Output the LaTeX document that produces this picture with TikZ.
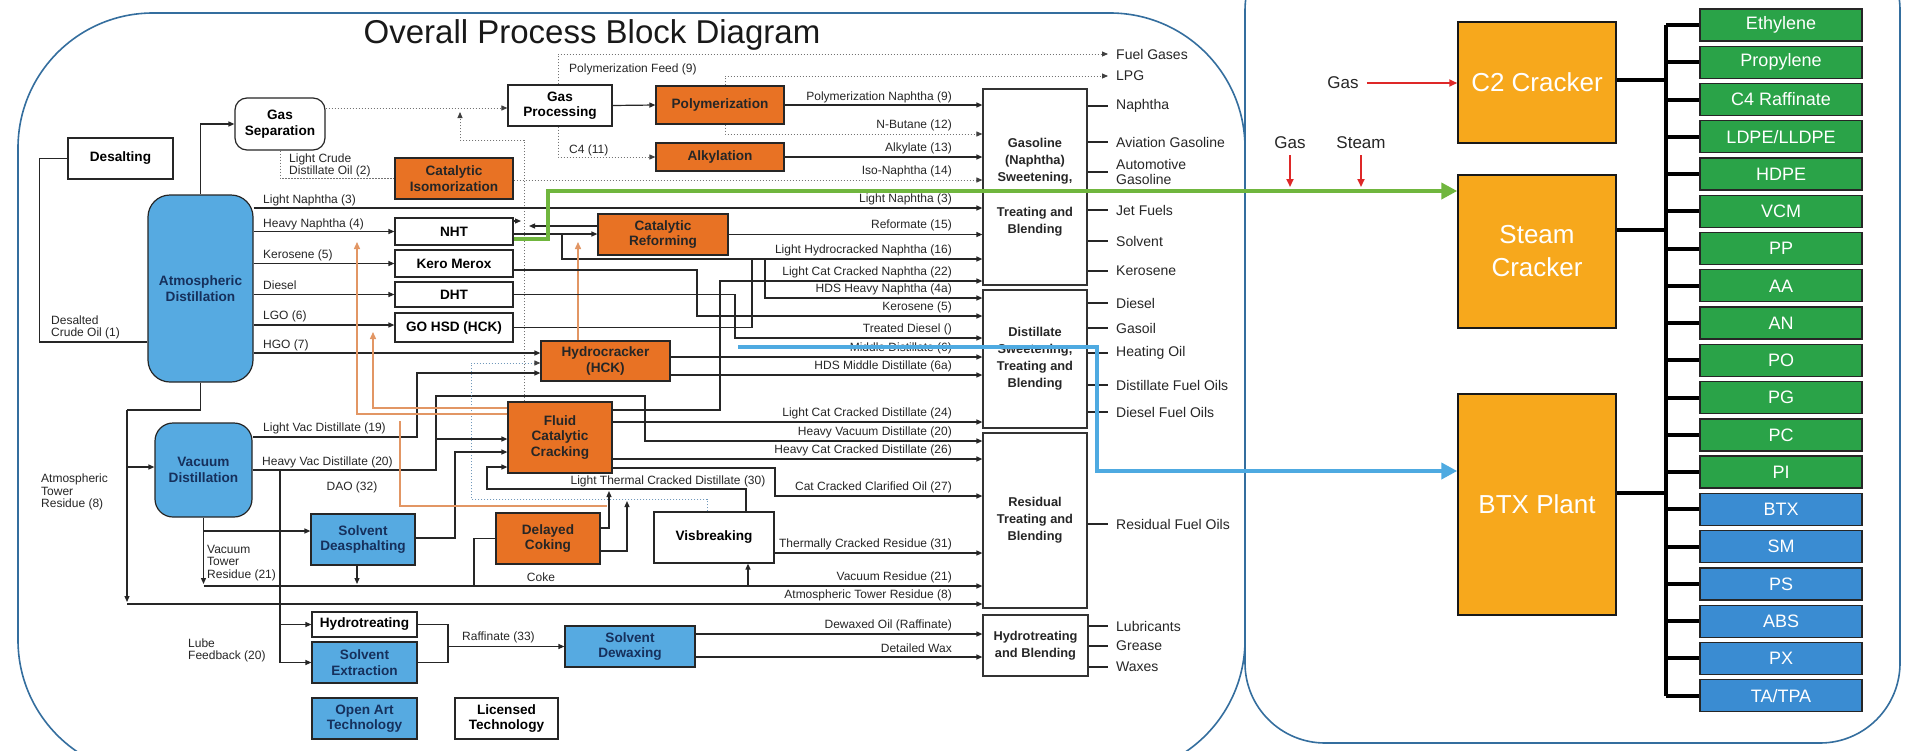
\documentclass[tikz,border=0pt]{standalone}
\usepackage{fontspec}
\setmainfont{Liberation Sans}
\usetikzlibrary{arrows.meta}
\definecolor{orL}{RGB}{232,114,36}
\definecolor{blL}{RGB}{86,170,225}
\definecolor{navy}{RGB}{22,48,92}
\definecolor{orR}{RGB}{247,168,28}
\definecolor{grP}{RGB}{42,163,72}
\definecolor{blP}{RGB}{58,140,210}
\definecolor{frm}{RGB}{52,110,158}
\definecolor{grF}{RGB}{112,182,62}
\definecolor{blF}{RGB}{78,170,225}
\definecolor{redA}{RGB}{222,40,40}
\definecolor{orA}{RGB}{226,150,100}
\begin{document}
\begin{tikzpicture}[x=1pt,y=-1pt,
 sz/.style 2 args={minimum width=#1pt,minimum height=#2pt},
 pbox/.style={draw=black!85,line width=1.2pt,align=center,inner sep=1pt,font=\fontsize{13.6}{15.5}\selectfont\bfseries},
 wbox/.style={pbox,fill=white,text=black},
 obox/.style={pbox,fill=orL,text=black!85},
 bbox/.style={pbox,fill=blL,text=navy},
 blk/.style={draw=black!80,line width=1.2pt,fill=white,align=center,font=\fontsize{12.8}{17}\selectfont\bfseries,text=black!85},
 lab/.style={inner sep=0pt,font=\fontsize{12}{12.2}\selectfont,text=black!85},
 rl/.style={lab,anchor=east},
 ll/.style={lab,anchor=west,align=left},
 olab/.style={inner sep=0pt,anchor=west,align=left,font=\fontsize{14}{15}\selectfont,text=black!85},
 fl/.style={line width=1.2pt,draw=black!85},
 ar/.style={fl,-{Triangle[length=6pt,width=5pt]}},
 dl/.style={line width=0.9pt,draw=black!55,dash pattern=on 1.6pt off 1.4pt},
 dar/.style={dl,-{Triangle[length=6pt,width=5pt,color=black!75,fill=black!75]}},
 vdl/.style={line width=0.9pt,draw=frm!70,dash pattern=on 1.6pt off 1.4pt,-{Triangle[length=6pt,width=5pt,color=black!75,fill=black!75]}},
 ofl/.style={line width=1.4pt,draw=orA},
 oar/.style={ofl,-{Triangle[length=7pt,width=6pt]}},
 gline/.style={line width=4pt,draw=grF,-{Triangle[length=16pt,width=16pt]}},
 bline/.style={line width=4pt,draw=blF,-{Triangle[length=16pt,width=16pt]}},
 rar/.style={line width=1.8pt,draw=redA,-{Triangle[length=8pt,width=7pt]}},
 rlab/.style={inner sep=0pt,font=\fontsize{17}{19}\selectfont,text=black!85},
 bus/.style={line width=4pt,draw=black},
 cbox/.style={draw=black!90,line width=1.5pt,fill=orR,text=white,align=center,font=\fontsize{26}{33}\selectfont},
 gprod/.style={draw=black!85,line width=1.3pt,fill=grP,text=white,font=\fontsize{18}{20}\selectfont,minimum width=162pt,minimum height=32pt,inner sep=0pt},
 bprod/.style={gprod,fill=blP}
]
\useasboundingbox (0,0) rectangle (1920,750);
\clip (0,0) rectangle (1920,750);
\fill[white] (0,0) rectangle (1920,750);
% frames
\draw[draw=frm,line width=1.6pt,rounded corners=135pt] (18,13) rectangle (1245,775);
\draw[draw=frm,line width=1.6pt,rounded corners=80pt] (1245,-70) rectangle (1900,743);
\node[font=\fontsize{33}{36}\selectfont,text=black!90] (title) at (592,35) {Overall Process Block Diagram};

% process nodes
\node[wbox,sz={90}{52},rounded corners=12pt] (gassep) at (280,124) {Gas\\Separation};
\node[wbox,sz={105}{41}] (desalt) at (120.5,158.5) {Desalting};
\node[bbox,sz={105}{187},rounded corners=22pt] (atm) at (200.5,288.5) {Atmospheric\\Distillation};
\node[bbox,sz={97}{94},rounded corners=18pt] (vac) at (203.5,470) {Vacuum\\Distillation};
\node[bbox,sz={104}{51}] (sda) at (363,539.5) {Solvent\\Deasphalting};
\node[wbox,sz={105}{25}] (hydrot) at (364.5,624.5) {Hydrotreating};
\node[bbox,sz={105}{41}] (solvext) at (364.5,662.5) {Solvent\\Extraction};
\node[bbox,sz={105}{41}] (openart) at (364.5,718.5) {Open Art\\Technology};
\node[wbox,sz={103}{41}] (licensed) at (506.5,718.5) {Licensed\\Technology};
\node[obox,sz={118}{41}] (isom) at (454,178.5) {Catalytic\\Isomorization};
\node[wbox,sz={118}{27}] (nht) at (454,231.5) {NHT};
\node[wbox,sz={118}{27}] (kero) at (454,263.5) {Kero Merox};
\node[wbox,sz={118}{25}] (dht) at (454,294.5) {DHT};
\node[wbox,sz={118}{29}] (gohsd) at (454,327.5) {GO HSD (HCK)};
\node[obox,sz={129}{40}] (hcr) at (605.5,361) {Hydrocracker\\(HCK)};
\node[obox,sz={130}{41}] (ref) at (663,234.5) {Catalytic\\Reforming};
\node[obox,sz={104}{71}] (fcc) at (560,437.5) {Fluid\\Catalytic\\Cracking};
\node[wbox,sz={104}{41}] (gasproc) at (560,105.5) {Gas\\Processing};
\node[obox,sz={128}{38}] (poly) at (720,105) {Polymerization};
\node[obox,sz={128}{28}] (alky) at (720,157) {Alkylation};
\node[bbox,sz={130}{41}] (sdw) at (630,646.5) {Solvent\\Dewaxing};
\node[wbox,sz={120}{51}] (visb) at (714,537.5) {Visbreaking};
\node[obox,sz={104}{51}] (dcok) at (548,538.5) {Delayed\\Coking};
% blending blocks
\node[blk,sz={104}{196}] (gsb) at (1035,187) {Gasoline\\(Naphtha)\\Sweetening,\\[18pt]Treating and\\Blending};
\node[blk,sz={104}{138}] (dsb) at (1035,359) {Distillate\\Sweetening,\\Treating and\\Blending};
\node[blk,sz={104}{175}] (rsb) at (1035,520.5) {Residual\\Treating and\\Blending};
\node[blk,sz={105}{61}] (hbb) at (1035.5,645.5) {Hydrotreating\\and Blending};

% output labels
\node[olab] (ofuel) at (1116,54) {Fuel Gases};
\node[olab] (olpg) at (1116,76) {LPG};
\foreach[count=\i] \y/\t in {106/Naphtha,142/Aviation Gasoline,172/{Automotive\\Gasoline},210/Jet Fuels,241/Solvent,271/Kerosene}{
  \node[olab] (og\i) at (1116,\y) {\t};
  \draw[fl] (gsb.east |- og\i.west) -- ([xshift=-8pt]og\i.west);
}
\foreach[count=\i] \y/\t in {303/Diesel,328/Gasoil,353/Heating Oil,385/Distillate Fuel Oils,412/Diesel Fuel Oils}{
  \node[olab] (od\i) at (1116,\y) {\t};
  \draw[fl] (dsb.east |- od\i.west) -- ([xshift=-8pt]od\i.west);
}
\node[olab] (or1) at (1116,524) {Residual Fuel Oils};
\draw[fl] (rsb.east |- or1.west) -- ([xshift=-8pt]or1.west);
\foreach[count=\i] \y/\t in {626/Lubricants,646/Grease,667/Waxes}{
  \node[olab] (oh\i) at (1116,\y) {\t};
  \draw[fl] (hbb.east |- oh\i.west) -- ([xshift=-8pt]oh\i.west);
}

% flow labels (left)
\node[ll] (lDes) at (51,327) {Desalted\\Crude Oil (1)};
\node[ll] (lLcd) at (289,165) {Light Crude\\Distillate Oil (2)};
\node[ll] (lLn) at (263,200) {Light Naphtha (3)};
\node[ll] (lHn) at (263,224) {Heavy Naphtha (4)};
\node[ll] (lKe) at (263,255) {Kerosene (5)};
\node[ll] (lDi) at (263,285) {Diesel};
\node[ll] (lLg) at (263,316) {LGO (6)};
\node[ll] (lHg) at (263,345) {HGO (7)};
\node[ll] (lLv) at (263,428) {Light Vac Distillate (19)};
\node[ll] (lHv) at (262,462) {Heavy Vac Distillate (20)};
\node[lab] (lDao) at (352,487) {DAO (32)};
\node[ll] (lAtr) at (41,492) {Atmospheric\\Tower\\Residue (8)};
\node[ll] (lVtr) at (207,563) {Vacuum\\Tower\\Residue (21)};
\node[ll] (lLube) at (188,650) {Lube\\Feedback (20)};
\node[ll] (lRaf) at (462,637) {Raffinate (33)};
\node[ll] (lC4) at (569,150) {C4 (11)};
\node[ll] (lPf) at (569,69) {Polymerization Feed (9)};
\node[lab] (lCoke) at (541,577) {Coke};
\node[lab] (lLtc) at (668,481) {Light Thermal Cracked Distillate (30)};
% flow labels (right)
\foreach[count=\i] \y/\t in {106/Polymerization Naphtha (9),134/N-Butane (12),157/Alkylate (13),180/Iso-Naphtha (14),208/Light Naphtha (3),234/Reformate (15),259/Light Hydrocracked Naphtha (16),281/Light Cat Cracked Naphtha (22),298/HDS Heavy Naphtha (4a),316/Kerosene (5),338/Treated Diesel (),357/Middle Distillate (6),375/HDS Middle Distillate (6a),422/Light Cat Cracked Distillate (24),441/Heavy Vacuum Distillate (20),459/Heavy Cat Cracked Distillate (26),496/Cat Cracked Clarified Oil  (27),553/Thermally Cracked Residue (31),586/Vacuum Residue (21),604/Atmospheric Tower Residue (8),634/Dewaxed Oil (Raffinate),657/Detailed Wax}{
  \node[rl] (rlab\i) at (952,\y-8.5) {\t};
}

% connectors
\draw[fl] (desalt.west) -- ++(-28,0) |- (atm.west |- 0,342);
\draw[ar] (atm.north) |- (gassep.west);
\draw[dl] (gassep.south) |- (isom.west);
\draw[dar] (gassep.east |- 0,108) -- (gasproc.west |- 0,108);
\draw[dar] (fcc.north -| 524,0) -- (524,140) -| (460,112);
\draw[ar] (gasproc.east) -- (poly.west);
\draw[dar] (gasproc.north -| 558,0) |- ([xshift=-8pt]ofuel.west);
\draw[dar] (gasproc.south -| 558,0) |- (alky.west);
\draw[dar] (poly.north -| 725,0) |- ([xshift=-8pt]olpg.west);
\draw[dar] (poly.south -| 725,0) |- (gsb.west |- 0,134);
\draw[ar] (poly.east) -- (gsb.west |- poly.east);
\draw[ar] (alky.east) -- (gsb.west |- alky.east);
\draw[dar] (isom.east |- 0,180) -- (gsb.west |- 0,180);
\draw[ar] (atm.east |- 0,208) -- (gsb.west |- 0,208);
\draw[ar] (atm.east |- nht.west) -- (nht.west);
\draw[ar] (atm.east |- kero.west) -- (kero.west);
\draw[ar] (atm.east |- dht.west) -- (dht.west);
\draw[ar] (atm.east |- 0,325) -- (gohsd.west |- 0,325);
\draw[ar] (atm.east |- 0,353) -- (hcr.west |- 0,353);
\draw[ar] (nht.east |- 0,234) -- (ref.west |- 0,234);
\draw[ar] (ref.west |- 0,226) -- (529,226);
\draw[ar] (nht.east |- 0,221) -- (521,221);
\draw[ar] (ref.east) -- (gsb.west |- ref.east);
\coordinate (jLhn) at (562,234);
\draw[ar] (jLhn) |- (gsb.west |- 0,259);
\draw[fl] (gohsd.east) -| (752,259);
\draw[ar] (765,259) |- (dsb.west |- 0,298);
\draw[oar] (hcr.north -| 578,0) -- (578,242);
\draw[ar] (fcc.east |- 0,410) -| (720,281) -- (gsb.west |- 0,281);
\draw[ar] (kero.east |- 0,270) -| (697,316) -- (dsb.west |- 0,316);
\draw[ar] (dht.east) -| (735,338) -- (dsb.west |- 0,338);
\draw[ar] (hcr.east |- 0,357) -- (dsb.west |- 0,357);
\draw[ar] (hcr.east |- 0,375) -- (dsb.west |- 0,375);
\draw[ar] (fcc.east |- 0,422) -- (dsb.west |- 0,422);
\draw[ar] (vac.east) -- (436,470) -- (436,396) -- (645,396) -- (645,441) -- (rsb.west |- 0,441);
\draw[ar] (436,439) -- (fcc.west |- 0,439);
\draw[ar] (280,470) |- (hydrot.west);
\draw[ar] (280,600) |- (solvext.west);
\draw[ar] (fcc.east |- 0,459) -- (rsb.west |- 0,459);
\draw[ar] (fcc.east |- 0,468) -| (775,496) -- (rsb.west |- 0,496);
\draw[ar] (vac.east |- 0,437) -| (417,373) -- (hcr.west |- 0,373);
\draw[vdl] (visb.north -| 707,0) |- (471,499) |- (hcr.west |- 0,363);
\draw[ar] (visb.north -| 746,0) |- (487,489) |- (fcc.west |- 0,467);
\draw[ar] (sda.east |- 0,538) -| (455,452) -- (fcc.west |- 0,452);
\draw[ar] (vac.south) -- (vac.south |- 0,584);
\draw[ar] (vac.south |- 0,586) -- (rsb.west |- 0,586);
\draw[ar] (vac.south |- 0,531) -- (sda.west |- 0,531);
\draw[ar] (sda.south -| 357,0) -- (357,584);
\draw[fl] (dcok.west) -| (474,586);
\draw[ar] (dcok.east |- 0,528) -| (609,491);
\draw[ar] (dcok.east |- 0,551) -| (627,501);
\draw[ar] (748,586) -- (visb.south -| 748,0);
\draw[ar] (visb.east |- 0,553) -- (rsb.west |- 0,553);
\draw[fl] (atm.south) |- (127,410);
\draw[ar] (127,410) -- (127,602);
\draw[ar] (127,467) -- (vac.west |- 0,467);
\draw[ar] (127,604) -- (rsb.west |- 0,604);
\draw[fl] (hydrot.east) -| (448,662.5);
\draw[fl] (solvext.east) -- (448,662.5);
\draw[ar] (448,646.5) -- (sdw.west);
\draw[ar] (sdw.east |- 0,634) -- (hbb.west |- 0,634);
\draw[ar] (sdw.east |- 0,657) -- (hbb.west |- 0,657);
\draw[oar] (fcc.west |- 0,414) -| (357,242);
\draw[oar] (fcc.west |- 0,408) -| (373,332);
\draw[ofl] (400,421) |- (607,506);

% right side
\node[cbox,sz={158}{121}] (c2) at (1537,82.5) {C2 Cracker};
\node[cbox,sz={158}{153}] (steam) at (1537,251.5) {Steam\\Cracker};
\node[cbox,sz={158}{221}] (btx) at (1537,504.5) {BTX Plant};
\draw[bus] (1666,25) -- (1666,{25+37.26*18});
\draw[bus] (c2.east |- 0,80) -- (1666,80);
\draw[bus] (steam.east |- 0,230) -- (1666,230);
\draw[bus] (btx.east |- 0,493) -- (1666,493);
\foreach \t [count=\i from 0] in {Ethylene,Propylene,C4 Raffinate,LDPE/LLDPE,HDPE,VCM,PP,AA,AN,PO,PG,PC,PI}{
  \node[gprod] (p\i) at (1781,{25+37.26*\i}) {\t};
  \draw[bus] (1666,{25+37.26*\i}) -- (p\i.west);
}
\foreach \t [count=\i from 13] in {BTX,SM,PS,ABS,PX,TA/TPA}{
  \node[bprod] (p\i) at (1781,{25+37.26*\i}) {\t};
  \draw[bus] (1666,{25+37.26*\i}) -- (p\i.west);
}
\node[rlab] (gasA) at (1343,83) {Gas};
\draw[rar] ([xshift=8pt]gasA.east) -- (c2.west |- gasA.east);
\node[rlab] (gasB) at (1290,143) {Gas};
\node[rlab] (steamL) at (1361,143) {Steam};
\draw[rar] ([yshift=-6pt]gasB.south) -- (gasB.south |- 0,187);
\draw[rar] ([yshift=-6pt]steamL.south) -- (steamL.south |- 0,187);

% feed lines
\draw[gline] (nht.east |- 0,239) -- (548,239) -- (548,191) -- (steam.west |- 0,191);
\coordinate (bstart) at (738,347);
\draw[bline] (bstart) -- (1097,347) -- (1097,471) -- (btx.west |- 0,471);
\end{tikzpicture}
\end{document}
